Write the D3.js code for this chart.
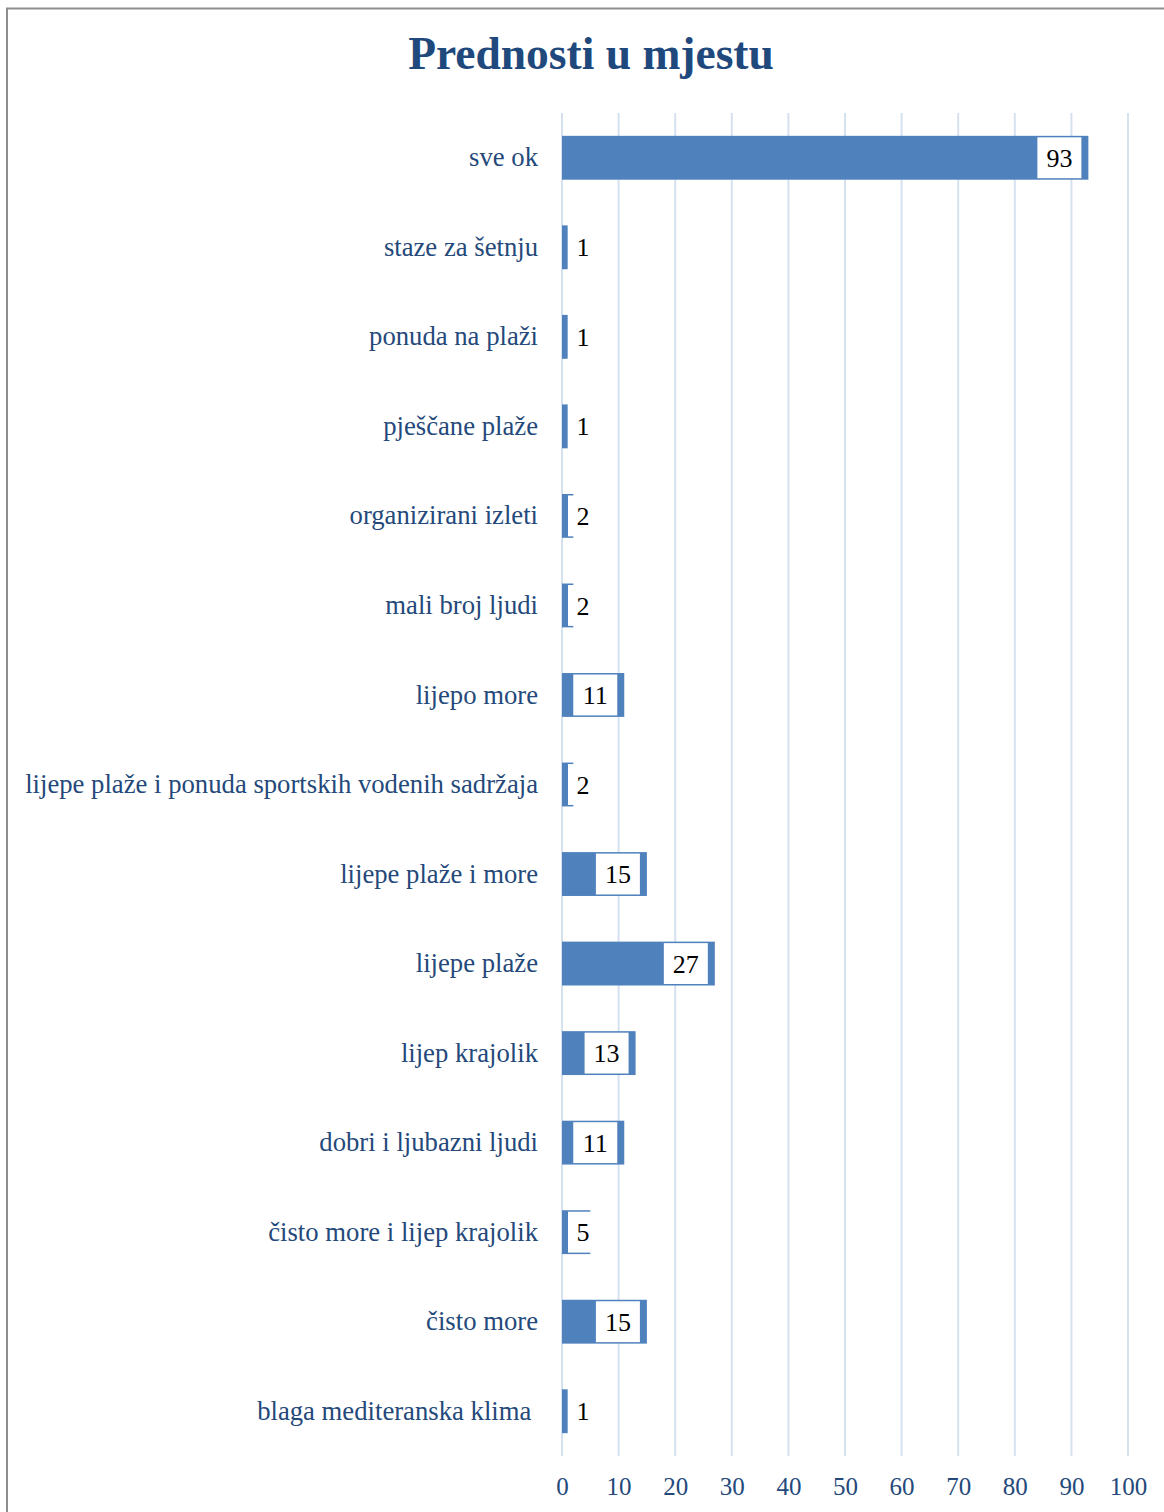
<!DOCTYPE html>
<html>
<head>
<meta charset="utf-8">
<script src="https://cdn.jsdelivr.net/npm/d3@7"></script>
<style>
  html, body { margin: 0; padding: 0; background: #fff; }
  svg { display: block; }
</style>
</head>
<body>
<script>
// Survey answers: advantages of the place, with the number of responses
const categories = [
  "sve ok",
  "staze za šetnju",
  "ponuda na plaži",
  "pješčane plaže",
  "organizirani izleti",
  "mali broj ljudi",
  "lijepo more",
  "lijepe plaže i ponuda sportskih vodenih sadržaja",
  "lijepe plaže i more",
  "lijepe plaže",
  "lijep krajolik",
  "dobri i ljubazni ljudi",
  "čisto more i lijep krajolik",
  "čisto more",
  "blaga mediteranska klima "
];
const values = [93, 1, 1, 1, 2, 2, 11, 2, 15, 27, 13, 11, 5, 15, 1];
const tickValues = [0, 10, 20, 30, 40, 50, 60, 70, 80, 90, 100];
const chartTitle = "Prednosti u mjestu";

const W = 1164, H = 1512;
const serif = "'Liberation Serif', 'DejaVu Serif', serif";
const textBlue = "#24497A";
const barColor = "#4F81BD";
const gridColor = "#D6E1F0";

const svg = d3.select("body").append("svg")
  .attr("width", W).attr("height", H);

// outer chart frame
svg.append("rect")
  .attr("x", 7).attr("y", 8.5)
  .attr("width", W + 10).attr("height", H + 10)
  .attr("fill", "none").attr("stroke", "#8E8E8E").attr("stroke-width", 2);

const x = d3.scaleLinear().domain([0, 100]).range([562, 1128]);
const y = d3.scaleBand().domain(categories).range([113, 1456]).paddingInner(0.51).paddingOuter(0.255);

// vertical gridlines
svg.append("g").selectAll("line").data(tickValues).join("line")
  .attr("x1", d => x(d)).attr("x2", d => x(d))
  .attr("y1", 113).attr("y2", 1456)
  .attr("stroke", gridColor).attr("stroke-width", 2);

// x axis tick labels
const xAxis = d3.axisBottom(x).tickValues(tickValues).tickSize(0).tickPadding(0);
const gx = svg.append("g").attr("transform", "translate(0,1475)").call(xAxis);
gx.select(".domain").remove();
gx.selectAll("text")
  .attr("dy", "0.8em")
  .attr("font-family", serif).attr("font-size", 25)
  .attr("fill", textBlue);

// category labels
const yAxis = d3.axisLeft(y).tickSize(0).tickPadding(0);
const gy = svg.append("g").attr("transform", "translate(538,0)").call(yAxis);
gy.select(".domain").remove();
gy.selectAll("text")
  .attr("font-family", serif).attr("font-size", 26.7)
  .attr("fill", textBlue)
  .style("white-space", "pre");

// bars
const rows = categories.map((c, i) => ({ c, v: values[i] }));
svg.append("g").selectAll("rect").data(rows).join("rect")
  .attr("x", x(0))
  .attr("y", d => y(d.c))
  .attr("width", d => x(d.v) - x(0))
  .attr("height", y.bandwidth())
  .attr("fill", barColor);

// value labels in white boxes at the inside end of each bar
const lab = svg.append("g").selectAll("g").data(rows).join("g");
lab.each(function (d) {
  const g = d3.select(this);
  const w = String(d.v).length > 1 ? 44 : 30;
  let left = x(d.v) - 7 - w;
  if (left < x(0) + 6) left = x(0) + 6;
  g.append("rect")
    .attr("x", left).attr("y", y(d.c) + 1.5)
    .attr("width", w).attr("height", y.bandwidth() - 3)
    .attr("fill", "#fff");
  g.append("text")
    .attr("x", left + w / 2).attr("y", y(d.c) + y.bandwidth() / 2)
    .attr("dy", "0.35em").attr("text-anchor", "middle")
    .attr("font-family", serif).attr("font-size", 26)
    .attr("fill", "#000")
    .text(d.v);
});

// title
svg.append("text")
  .attr("x", 591).attr("y", 69)
  .attr("text-anchor", "middle")
  .attr("font-family", serif).attr("font-size", 45.5).attr("font-weight", "bold")
  .attr("fill", "#1F497D")
  .text(chartTitle);
</script>
</body>
</html>
